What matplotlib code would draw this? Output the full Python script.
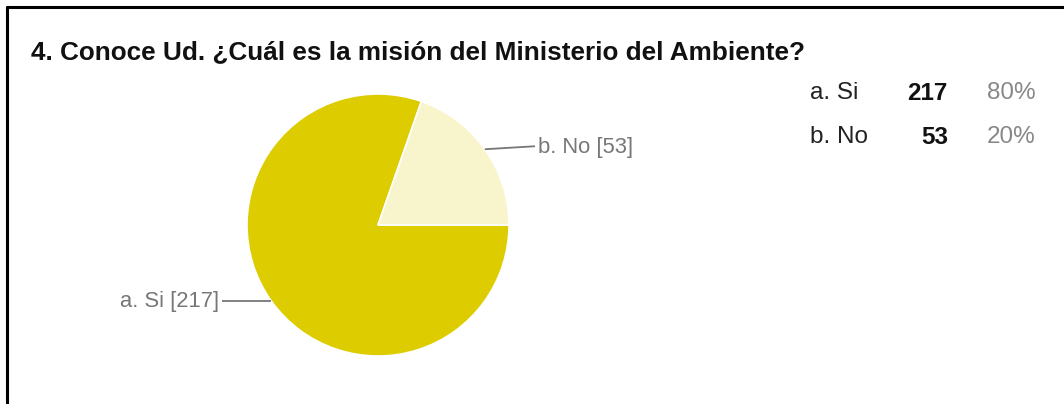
import matplotlib
matplotlib.use("Agg")
import matplotlib.pyplot as plt
import numpy as np

title = "4. Conoce Ud. ¿Cuál es la misión del Ministerio del Ambiente?"
categories = ["a. Si", "b. No"]
counts = [217, 53]
percents = ["80%", "20%"]
colors = ["#DCCC00", "#F8F4CC"]

W, H = 1064, 404
fig = plt.figure(figsize=(W / 100, H / 100), dpi=100)
ax = fig.add_axes([0, 0, 1, 1])
plt.rcParams['font.family'] = ['Liberation Sans', 'DejaVu Sans']

cx, cy, r = 378, H - 225, 131
wedges, _ = ax.pie(counts, colors=colors, startangle=0, counterclock=False,
                   center=(cx, cy), radius=r, frame=True,
                   wedgeprops=dict(edgecolor="white", linewidth=1.2))

# leader labels
label_cfg = [dict(end_x=222, text_x=219, ha="right", dy=0),
             dict(end_x=535, text_x=538, ha="left", dy=3)]
for w, cat, n, cfg in zip(wedges, categories, counts, label_cfg):
    mid = np.deg2rad((w.theta1 + w.theta2) / 2)
    x0 = cx + r * np.cos(mid)
    y0 = cy + r * np.sin(mid)
    ax.plot([x0, cfg["end_x"]], [y0, y0 + cfg["dy"]],
            color="#777777", lw=1.3, solid_capstyle="butt")
    ax.text(cfg["text_x"], y0 + cfg["dy"] - 1, f"{cat} [{n}]", ha=cfg["ha"],
            va="center", fontsize=15.8, color="#777777")

# title
ax.text(31, H - 52, title, fontsize=18.8, fontweight="bold", ha="left",
        va="center", color="#111111")

# legend table
rows_y = [H - 93, H - 137]
for yy, cat, n, p in zip(rows_y, categories, counts, percents):
    ax.text(810, yy, cat, fontsize=17.5, color="#222222", ha="left", va="center")
    ax.text(948, yy, str(n), fontsize=17.5, fontweight="bold", color="#111111",
            ha="right", va="center")
    ax.text(1036, yy, p, fontsize=17.5, color="#888888", ha="right", va="center")

# frame lines (top and left)
ax.plot([6, W], [H - 7, H - 7], color="black", lw=2.2, solid_capstyle="butt")
ax.plot([7, 7], [0, H - 6], color="black", lw=2.2, solid_capstyle="butt")

ax.set_xlim(0, W)
ax.set_ylim(0, H)
ax.set_aspect("auto")
ax.axis("off")
fig.savefig("out.png", dpi=100, facecolor="white")
